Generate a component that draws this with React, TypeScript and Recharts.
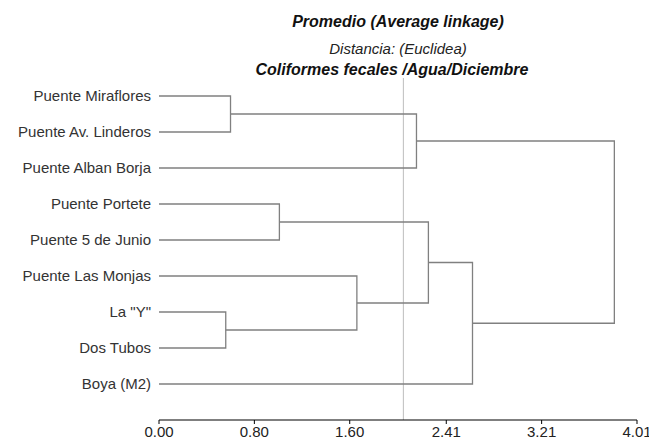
import React from 'react';
import { ComposedChart, XAxis, YAxis, Scatter, ReferenceLine } from 'recharts';

const leaves = [
  'Puente Miraflores',
  'Puente Av. Linderos',
  'Puente Alban Borja',
  'Puente Portete',
  'Puente 5 de Junio',
  'Puente Las Monjas',
  'La "Y"',
  'Dos Tubos',
  'Boya (M2)',
];
// node ids: 0..8 leaves, 9.. merged clusters in order
const mergeLeft = [6, 0, 3, 5, 10, 11, 14, 13];
const mergeRight = [7, 1, 4, 9, 2, 12, 8, 15];
const mergeHeight = [0.56, 0.6, 1.01, 1.66, 2.16, 2.26, 2.63, 3.82];
const xTicks = [0, 0.8, 1.6, 2.41, 3.21, 4.01];
const leafTicks = [0, 1, 2, 3, 4, 5, 6, 7, 8];
const cutHeight = 2.05;

const titles = ['Promedio (Average linkage)', 'Distancia: (Euclidea)', 'Coliformes fecales /Agua/Diciembre'];

type Pt = { x: number; y: number };

function buildLinks(): Pt[][] {
  const ys: number[] = leaves.map((_, i) => i);
  const hs: number[] = leaves.map(() => 0);
  const links: Pt[][] = [];
  mergeHeight.forEach((h, i) => {
    const a = mergeLeft[i];
    const b = mergeRight[i];
    links.push([
      { x: hs[a], y: ys[a] },
      { x: h, y: ys[a] },
      { x: h, y: ys[b] },
      { x: hs[b], y: ys[b] },
    ]);
    ys.push((ys[a] + ys[b]) / 2);
    hs.push(h);
  });
  return links;
}

const links = buildLinks();
const FONT = '"Liberation Sans", Arial, sans-serif';

export default function App() {
  return (
    <div style={{ position: 'absolute', left: 0, top: 0, width: 649, height: 448, background: '#fff', fontFamily: FONT, overflow: 'hidden' }}>
      <div style={{ position: 'absolute', left: 398, top: 13, transform: 'translateX(-50%)', whiteSpace: 'nowrap', fontSize: 16, fontWeight: 'bold', fontStyle: 'italic', color: '#111', lineHeight: '18px' }}>
        {titles[0]}
      </div>
      <div style={{ position: 'absolute', left: 398, top: 40, transform: 'translateX(-50%)', whiteSpace: 'nowrap', fontSize: 15, fontStyle: 'italic', color: '#222', lineHeight: '18px' }}>
        {titles[1]}
      </div>
      <div style={{ position: 'absolute', left: 392, top: 61, transform: 'translateX(-50%)', whiteSpace: 'nowrap', fontSize: 16, fontWeight: 'bold', fontStyle: 'italic', color: '#111', lineHeight: '18px' }}>
        {titles[2]}
      </div>
      <ComposedChart width={649} height={448} margin={{ top: 78, right: 12, left: 9, bottom: 0 }} style={{ position: 'absolute', left: 0, top: 0 }}>
        <XAxis
          type="number"
          dataKey="x"
          domain={[0, 4.01]}
          ticks={xTicks}
          interval={0}
          allowDataOverflow
          tickFormatter={(v: number) => v.toFixed(2)}
          axisLine={{ stroke: '#000', strokeWidth: 1.2 }}
          tickLine={{ stroke: '#000' }}
          tickSize={4}
          tickMargin={2}
          height={28}
          tick={{ fontSize: 15, fill: '#222', fontFamily: FONT }}
        />
        <YAxis
          type="number"
          dataKey="y"
          domain={[-0.5, 9]}
          reversed
          ticks={leafTicks}
          interval={0}
          allowDataOverflow
          tickFormatter={(v: number) => leaves[v]}
          axisLine={false}
          tickLine={false}
          tickSize={0}
          tickMargin={8}
          width={150}
          tick={{ fontSize: 15, fill: '#333', fontFamily: FONT }}
        />
        <ReferenceLine x={cutHeight} stroke="#bdbdbd" strokeWidth={1} />
        {links.map((pts, i) => (
          <Scatter
            key={i}
            data={pts}
            line={{ stroke: '#808080', strokeWidth: 1.3 }}
            lineType="joint"
            shape={() => <g />}
            isAnimationActive={false}
          />
        ))}
      </ComposedChart>
    </div>
  );
}
